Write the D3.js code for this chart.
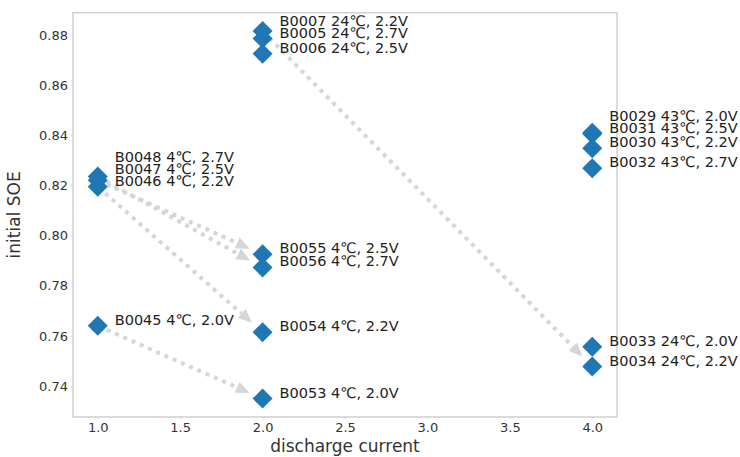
<!DOCTYPE html>
<html>
<head>
<meta charset="utf-8">
<script src="https://cdn.jsdelivr.net/npm/d3@7"></script>
<style>
  body { margin: 0; background: #fff; }
  text { font-family: "DejaVu Sans", sans-serif; }
</style>
</head>
<body>
<div id="chart"></div>
<script>
// battery cells
const cells    = ["B0005", "B0006", "B0007", "B0029", "B0030", "B0031", "B0032", "B0033", "B0034",
                  "B0045", "B0046", "B0047", "B0048", "B0053", "B0054", "B0055", "B0056"];
const current  = [2, 2, 2, 4, 4, 4, 4, 4, 4, 1, 1, 1, 1, 2, 2, 2, 2];
const soe      = [0.8785, 0.8725, 0.8815, 0.8410, 0.8348, 0.8405, 0.8268, 0.7557, 0.7478,
                  0.7640, 0.8195, 0.8220, 0.8235, 0.7350, 0.7615, 0.7925, 0.7873];
const temps    = [24, 24, 24, 43, 43, 43, 43, 24, 24, 4, 4, 4, 4, 4, 4, 4, 4];
const volts    = ["2.7", "2.5", "2.2", "2.0", "2.2", "2.5", "2.7", "2.0", "2.2",
                  "2.0", "2.2", "2.5", "2.7", "2.0", "2.2", "2.5", "2.7"];

// arrows: from cell -> to cell
const arrowFrom = ["B0045", "B0046", "B0047", "B0048", "B0007"];
const arrowTo   = ["B0053", "B0054", "B0055", "B0056", "B0034"];

const xTicks = [1.0, 1.5, 2.0, 2.5, 3.0, 3.5, 4.0];
const yTicks = [0.74, 0.76, 0.78, 0.80, 0.82, 0.84, 0.86, 0.88];

const data = cells.map((c, i) => ({
  cell: c, x: current[i], y: soe[i],
  label: c + " " + temps[i] + "\u2103, " + volts[i] + "V"
}));

const W = 740, H = 457;
const margin = { top: 12.7, right: 123, bottom: 40, left: 73 };
const width = W - margin.left - margin.right,
      height = H - margin.top - margin.bottom;

function padded(ext) {
  const p = (ext[1] - ext[0]) * 0.05;
  return [ext[0] - p, ext[1] + p];
}

const x = d3.scaleLinear().domain(padded(d3.extent(current))).range([0, width]);
const y = d3.scaleLinear().domain(padded(d3.extent(soe))).range([height, 0]);

const svg = d3.select("#chart").append("svg")
  .attr("width", W).attr("height", H);

const defs = svg.append("defs");
defs.append("marker")
  .attr("id", "head")
  .attr("viewBox", "0 0 14 12")
  .attr("refX", 0).attr("refY", 6)
  .attr("markerWidth", 14).attr("markerHeight", 12)
  .attr("markerUnits", "userSpaceOnUse")
  .attr("orient", "auto")
  .append("path")
  .attr("d", "M0,0 L14,6 L0,12 Z")
  .attr("fill", "#d6d6d6");

const g = svg.append("g")
  .attr("transform", "translate(" + margin.left + "," + margin.top + ")");

// x axis
const xAxis = g.append("g")
  .attr("transform", "translate(0," + height + ")")
  .call(d3.axisBottom(x).tickValues(xTicks).tickFormat(d3.format(".1f")).tickSize(2).tickPadding(4));
// y axis
const yAxis = g.append("g")
  .call(d3.axisLeft(y).tickValues(yTicks).tickFormat(d3.format(".2f")).tickSize(2).tickPadding(3));

[xAxis, yAxis].forEach(a => {
  a.select(".domain").remove();
  a.selectAll(".tick line").attr("stroke", "#d0d0d0");
  a.selectAll(".tick text")
    .attr("fill", "#333")
    .style("font-size", "13px")
    .style("font-family", "DejaVu Sans, sans-serif");
});

// frame
g.append("rect")
  .attr("width", width).attr("height", height)
  .attr("fill", "none")
  .attr("stroke", "#d0d0d0")
  .attr("stroke-width", 1.5);

// axis titles
g.append("text")
  .attr("x", width / 2).attr("y", height + 35)
  .attr("text-anchor", "middle")
  .attr("fill", "#333")
  .style("font-size", "17px")
  .text("discharge current");

g.append("text")
  .attr("transform", "translate(-53," + (height / 2) + ") rotate(-90)")
  .attr("text-anchor", "middle")
  .attr("fill", "#333")
  .style("font-size", "17px")
  .text("initial SOE");

// arrows
const byCell = {};
data.forEach(d => { byCell[d.cell] = d; });
const shrinkA = 10, shrinkB = 28; // px from centre of each marker
arrowFrom.forEach((f, i) => {
  const a = byCell[f], b = byCell[arrowTo[i]];
  const x1 = x(a.x), y1 = y(a.y), x2 = x(b.x), y2 = y(b.y);
  const len = Math.hypot(x2 - x1, y2 - y1);
  const ux = (x2 - x1) / len, uy = (y2 - y1) / len;
  g.append("line")
    .attr("x1", x1 + ux * shrinkA).attr("y1", y1 + uy * shrinkA)
    .attr("x2", x2 - ux * shrinkB).attr("y2", y2 - uy * shrinkB)
    .attr("stroke", "#d6d6d6")
    .attr("stroke-width", 4)
    .attr("stroke-dasharray", "4 5")
    .attr("marker-end", "url(#head)");
});

// markers
g.selectAll(".pt")
  .data(data)
  .enter()
  .append("path")
  .attr("class", "pt")
  .attr("d", d3.symbol().type(d3.symbolSquare).size(200))
  .attr("transform", d => "translate(" + x(d.x) + "," + y(d.y) + ") rotate(45)")
  .attr("fill", "#1f77b4");

// labels: place just above-right, push apart within each column
const labels = data.map(d => ({ d: d, px: x(d.x) + 17, py: y(d.y) - 6 }));
d3.groups(labels, l => l.d.x).forEach(([k, col]) => {
  col.sort((a, b) => b.py - a.py);
  for (let i = 1; i < col.length; i++) {
    if (col[i].py > col[i - 1].py - 12) col[i].py = col[i - 1].py - 12;
  }
});
g.selectAll(".lbl")
  .data(labels)
  .enter()
  .append("text")
  .attr("class", "lbl")
  .attr("x", l => l.px)
  .attr("y", l => l.py)
  .attr("dy", "0.35em")
  .attr("fill", "#222")
  .style("font-size", "14.5px")
  .text(l => l.d.label);
</script>
</body>
</html>
